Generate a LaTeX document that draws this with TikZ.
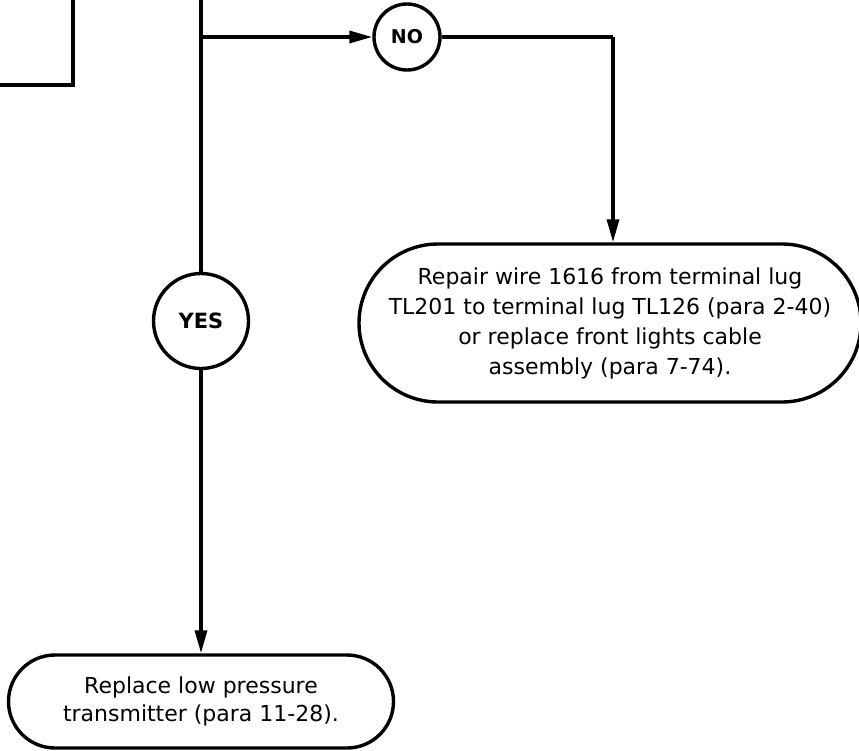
\documentclass[tikz,border=0pt]{standalone}
\usepackage{fontspec}
\setmainfont{DejaVu Sans}
\usetikzlibrary{shapes.misc, arrows.meta, positioning}

\begin{document}
\begin{tikzpicture}[
    x=1pt, y=-1pt,
    >={Triangle[length=23pt, width=12pt]},
    flowline/.style={line width=3.4pt, black},
    arrow/.style={flowline, ->},
    answer/.style={circle, draw, line width=3.4pt, inner sep=0pt,
        font=\fontsize{19}{23}\selectfont\bfseries},
    action/.style={rounded rectangle, draw, line width=3.4pt, align=center,
        inner sep=0pt, font=\fontsize{22}{30}\selectfont}
]
    \useasboundingbox (0,0) rectangle (859,750);

    % box above, only its corner is shown
    \coordinate (prevtop) at (73,-5);
    \coordinate (prevleft) at (-5,85);
    \draw[flowline] (prevtop) |- (prevleft);

    % decision outcomes
    \coordinate (feed) at (201,-5);
    \coordinate (split) at (201,37);
    \node[answer, minimum size=66pt] (no) at (407,37) {NO};
    \node[answer, minimum size=95pt, font=\fontsize{21}{25}\selectfont\bfseries]
        (yes) at (201,321) {YES};

    % actions
    \node[action, minimum width=502pt, minimum height=158pt] (repair) at (610,323)
        {Repair wire 1616 from terminal lug\\
         TL201 to terminal lug TL126 (para 2-40)\\
         or replace front lights cable\\
         assembly (para 7-74).};
    \node[action, minimum width=385pt, minimum height=93pt,
        font=\fontsize{22}{28}\selectfont] (replace) at (201,701.5)
        {Replace low pressure\\
         transmitter (para 11-28).};
    \coordinate (drop) at (613,37);

    % connectors
    \draw[flowline] (feed) -- (yes.north);
    \draw[arrow] (split) -- (no.west);
    \draw[flowline] (no.east) -- (drop);
    \draw[arrow] (drop) -- (drop |- repair.north);
    \draw[arrow] (yes.south) -- (replace.north);
\end{tikzpicture}
\end{document}
